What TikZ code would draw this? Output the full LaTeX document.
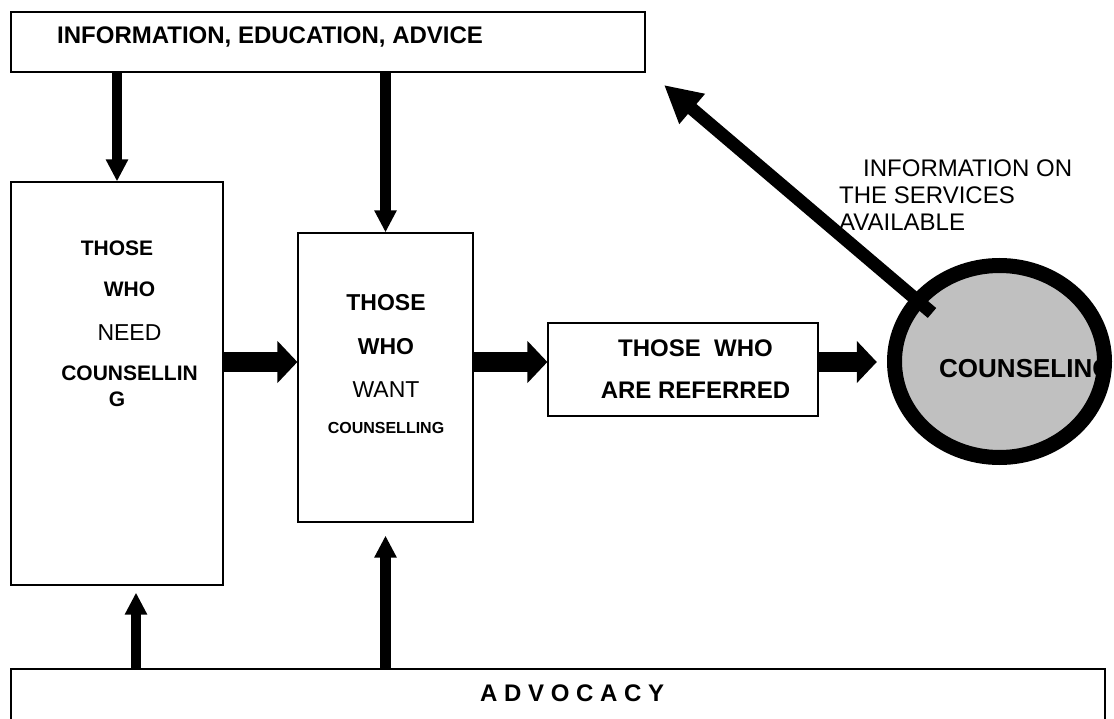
\documentclass[tikz,border=0pt]{standalone}
\usepackage{fontspec}
\setmainfont{Liberation Sans}
\usetikzlibrary{arrows.meta,shapes.geometric}
\definecolor{ovalgray}{HTML}{C0C0C0}
\tikzstyle{box}=[draw=black,line width=1.2pt,rectangle,inner sep=0pt]
\tikzstyle{txt}=[inner sep=0pt,align=center,font=\fontsize{24}{26}\selectfont\bfseries]
\tikzstyle{flow}=[line width=20pt,-{Triangle[width=41pt,length=20pt]}]
\tikzstyle{feed}=[line width=10.5pt,-{Triangle[width=21pt,length=22pt]}]
\tikzstyle{info}=[line width=13pt,-{Triangle[width=37pt,length=37pt]}]

\begin{document}
\begin{tikzpicture}[x=1pt,y=-1pt]
	\useasboundingbox (0,0) rectangle (1114,719);
	\node[box,minimum width=634pt,minimum height=60pt] (iea) at (328,42) {};
	\node[box,minimum width=212pt,minimum height=403pt] (need) at (117,383.5) {};
	\node[box,minimum width=175pt,minimum height=289pt] (want) at (385.5,377.5) {};
	\node[box,minimum width=270pt,minimum height=93pt] (referred) at (683,369.5) {};
	\node[box,minimum width=1094pt,minimum height=70pt] (advocacy) at (558,704) {};
	\node[ellipse,fill=ovalgray,minimum width=210pt,minimum height=192pt,inner sep=0pt] (counseling) at (999.5,361.5) {};
	\node[txt,anchor=base west,font=\fontsize{26}{28}\selectfont\bfseries] (counseltxt) at (939,377.3) {COUNSELING};
	\draw[line width=15pt] (counseling.center) ellipse [x radius=105pt,y radius=96pt];

	\node[txt,anchor=base west] (ieatxt) at (57,43.6) {INFORMATION, EDUCATION, ADVICE};
	\node[txt,anchor=north,font=\fontsize{21}{26}\selectfont\bfseries] (needtxt) at (117,240.5)
		{THOSE\\[15pt] \hspace*{25pt}WHO\\[17.7pt] \hspace*{25pt}{\mdseries\fontsize{23}{26}\selectfont NEED}\\[14.3pt] \hspace*{25pt}COUNSELLIN\\ G};
	\node[txt,anchor=north,font=\fontsize{23}{26}\selectfont\bfseries] (wanttxt) at (386,293.8)
		{THOSE\\[18pt] WHO\\[17pt] {\mdseries WANT}\\[10.5pt] {\fontsize{16}{19}\selectfont COUNSELLING}};
	\node[txt,anchor=north] (referredtxt) at (695.5,339.4) {THOSE~~WHO\\[16pt] ARE REFERRED};
	\node[txt,anchor=north west,align=left,font=\fontsize{24}{27}\selectfont] (infotxt) at (839,159.4)
		{\hspace*{24pt}INFORMATION ON\\ THE SERVICES\\ AVAILABLE};
	\node[txt,anchor=base west] (advtxt) at (480,701.6) {A D V O C A C Y};

	\coordinate (flowline) at (0,362);
	\coordinate (ringleft) at ([xshift=-17.5pt]counseling.west);
	\draw[flow] (need.east |- flowline) -- (want.west |- flowline);
	\draw[flow] (want.east |- flowline) -- (referred.west |- flowline);
	\draw[flow] (referred.east |- flowline) -- (ringleft |- flowline);

	\draw[feed] (need.north |- iea.south) -- (need.north);
	\draw[feed] (want.north |- iea.south) -- (want.north);
	\coordinate (needfoot) at ([xshift=19pt,yshift=-7pt]need.south);
	\coordinate (wantfoot) at ([yshift=-13pt]want.south);
	\draw[feed] (needfoot |- advocacy.north) -- (needfoot);
	\draw[feed] (wantfoot |- advocacy.north) -- (wantfoot);

	\coordinate (infotail) at (932,313);
	\coordinate (infotip) at (664,85);
	\draw[info] (infotail) -- (infotip);
\end{tikzpicture}
\end{document}
